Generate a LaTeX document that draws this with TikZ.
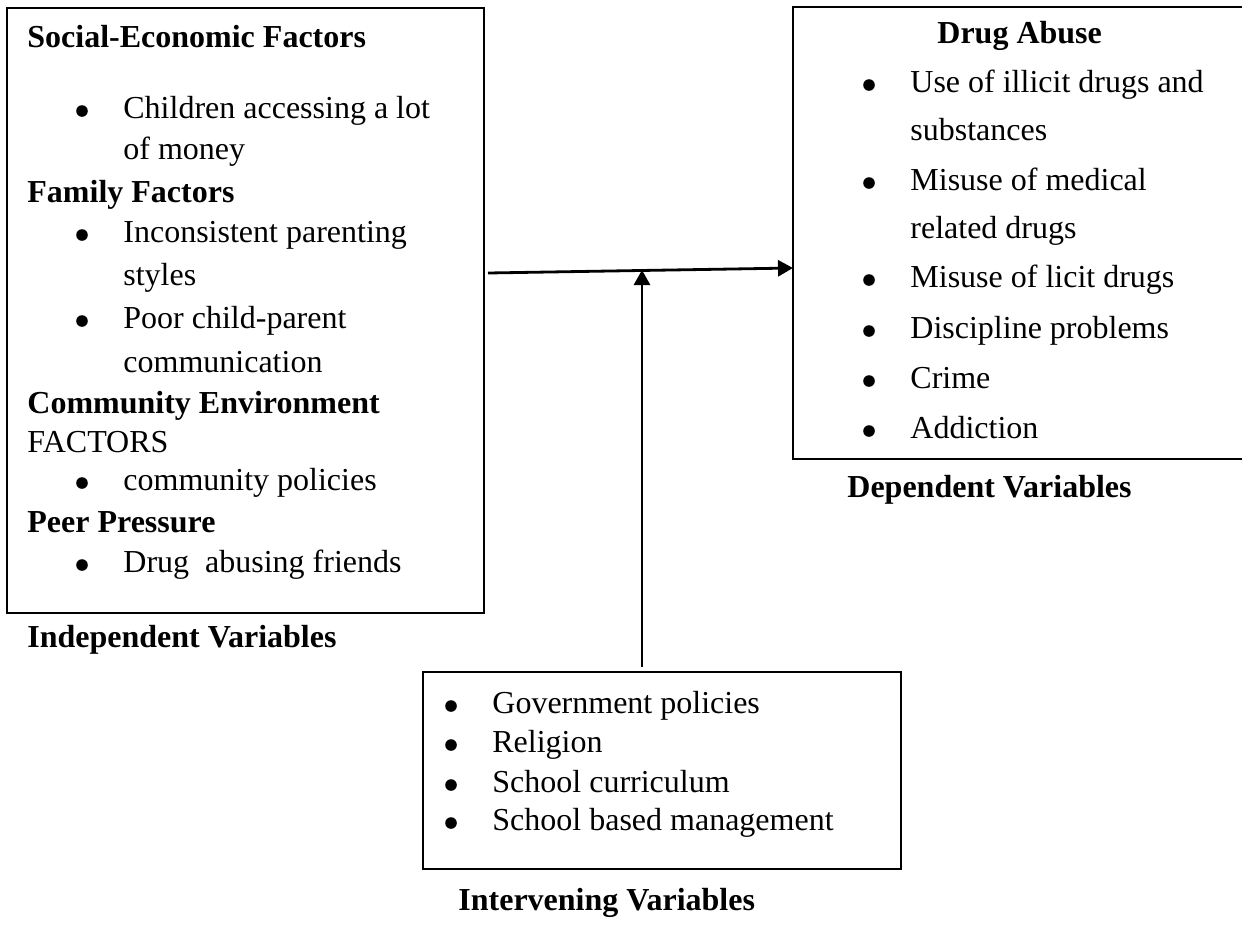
\documentclass[tikz,border=0pt]{standalone}
\usepackage{fontspec}
\setmainfont{Liberation Serif}
\usetikzlibrary{arrows.meta}
\newcommand\bitem[4]{%
  \node[bul] (#1dot) at (#2-41,#3-7) {};
  \node[txt] (#1) at (#2,#3) {#4};}
\begin{document}
\begin{tikzpicture}[x=0.5pt,y=-0.5pt,
  box/.style={draw, line width=0.9pt, inner sep=0pt, outer sep=0pt, anchor=north west},
  txt/.style={anchor=base west, inner sep=0pt, font=\fontsize{16}{19}\selectfont},
  hd/.style={anchor=base west, inner sep=0pt, font=\fontsize{16}{19}\selectfont\bfseries},
  bul/.style={circle, fill, inner sep=0pt, minimum size=5.8pt},
  conn/.style={line width=1.4pt, -{Triangle[length=7.5pt,width=8pt]}}]
\useasboundingbox (0,0) rectangle (1242,927);
% boxes
\node[box, minimum width=238.5pt, minimum height=302.5pt] (L) at (7,8) {};
\node[box, minimum width=232pt, minimum height=226pt] (R) at (793,7) {};
\node[box, minimum width=239pt, minimum height=98.5pt] (B) at (423,672) {};
% left box text
\node[hd] (ls) at (27,47) {Social-Economic Factors};
\bitem{l1}{123}{118}{Children accessing a lot}
\node[txt] (l1x) at (123,159) {of money};
\node[hd] (lf) at (27,202) {Family Factors};
\bitem{l2}{123}{242}{Inconsistent parenting}
\node[txt] (l2x) at (123,285) {styles};
\bitem{l3}{123}{328}{Poor child-parent}
\node[txt] (l3x) at (123,372) {communication};
\node[hd] (lc) at (27,413) {Community Environment};
\node[txt] (lcx) at (27,452) {FACTORS};
\bitem{l4}{123}{490}{community policies}
\node[hd] (lp) at (27,532) {Peer Pressure};
\bitem{l5}{123}{572}{Drug\ \ abusing friends}
\node[hd] (iv) at (27,647) {Independent Variables};
% right box text
\node[hd] (da) at (937,43) {Drug Abuse};
\bitem{r1}{910}{92}{Use of illicit drugs and}
\node[txt] (r1x) at (910,140) {substances};
\bitem{r2}{910}{190}{Misuse of medical}
\node[txt] (r2x) at (910,238) {related drugs};
\bitem{r3}{910}{287}{Misuse of licit drugs}
\bitem{r4}{910}{338}{Discipline problems}
\bitem{r5}{910}{388}{Crime}
\bitem{r6}{910}{438}{Addiction}
\node[hd] (dv) at (847,497) {Dependent Variables};
% bottom box text
\bitem{b1}{492}{713}{Government policies}
\bitem{b2}{492}{752}{Religion}
\bitem{b3}{492}{792}{School curriculum}
\bitem{b4}{492}{830}{School based management}
\node[hd] (inv) at (458,910) {Intervening Variables};
% connectors
\coordinate (hs) at (488,273);
\coordinate (he) at (793,268);
\draw[conn] (hs) -- (he);
\coordinate (vs) at (642,667);
\coordinate (ve) at (642,270);
\draw[conn] (vs) -- (ve);
\end{tikzpicture}
\end{document}
